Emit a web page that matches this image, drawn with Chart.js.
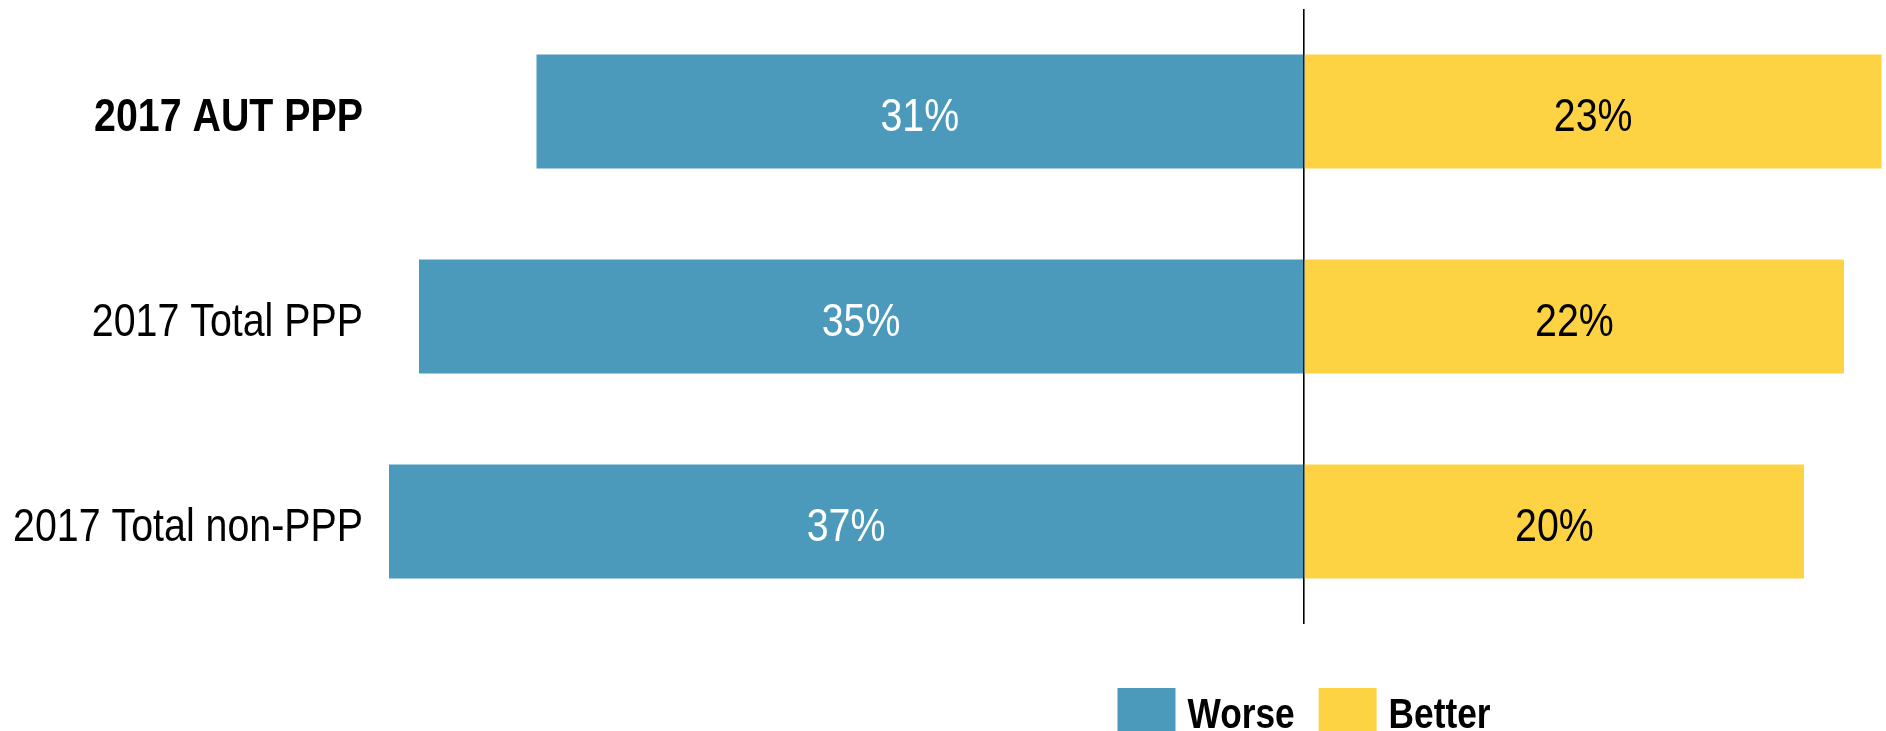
<!DOCTYPE html>
<html>
<head>
<meta charset="utf-8">
<script src="https://cdn.jsdelivr.net/npm/chart.js@4/dist/chart.umd.min.js"></script>
<style>
  html, body { margin: 0; padding: 0; background: #fff; }
  #wrap { width: 1886px; height: 731px; }
</style>
</head>
<body>
<div id="wrap"><canvas id="c" width="1886" height="731"></canvas></div>
<script>
const categories = ['2017 AUT PPP', '2017 Total PPP', '2017 Total non-PPP'];
const seriesNames = ['Worse', 'Better'];
const worse = [30.7, 35.4, 36.6];
const better = [23.1, 21.6, 20.0];

const FONT = "'Liberation Sans', Arial, sans-serif";
const NARROW = 0.837;      // horizontal squeeze to mimic Arial Narrow
const NARROW_LEG = 0.82;
const BLUE = '#4B9ABC';
const YELLOW = '#FDD344';

function narrowText(ctx, text, x, y, align, k) {
  ctx.save();
  ctx.translate(x, y);
  ctx.scale(k, 1);
  ctx.textAlign = align;
  ctx.fillText(text, 0, 0);
  ctx.restore();
}

const axisLabels = {
  id: 'axisLabels',
  afterDraw(chart) {
    const ctx = chart.ctx;
    const y = chart.scales.y;
    ctx.save();
    ctx.fillStyle = '#000';
    ctx.textBaseline = 'middle';
    chart.data.labels.forEach((lab, i) => {
      ctx.font = (i === 0 ? 'bold ' : '') + '47px ' + FONT;
      narrowText(ctx, lab, chart.chartArea.left - 16, y.getPixelForTick(i) + 7, 'right', NARROW);
    });
    ctx.restore();
  }
};

const barLabels = {
  id: 'barLabels',
  afterDatasetsDraw(chart) {
    const ctx = chart.ctx;
    ctx.save();
    ctx.font = '47px ' + FONT;
    ctx.textBaseline = 'middle';
    chart.data.datasets.forEach((ds, di) => {
      const meta = chart.getDatasetMeta(di);
      meta.data.forEach((el, i) => {
        const p = el.getCenterPoint();
        ctx.fillStyle = di === 0 ? '#ffffff' : '#000000';
        narrowText(ctx, Math.round(Math.abs(ds.data[i])) + '%', p.x, p.y + 7, 'center', NARROW);
      });
    });
    ctx.restore();
  }
};

const customLegend = {
  id: 'customLegend',
  afterDraw(chart) {
    const ctx = chart.ctx;
    ctx.save();
    ctx.font = 'bold 43px ' + FONT;
    const box = 58, boxH = 44, gap = 12, itemGap = 24;
    const items = chart.data.datasets.map(ds => ({ label: ds.label, color: ds.backgroundColor, w: ctx.measureText(ds.label).width * NARROW_LEG }));
    let total = 0;
    items.forEach((it, i) => { total += box + gap + it.w + (i < items.length - 1 ? itemGap : 0); });
    const cx = chart.scales.x.getPixelForValue(0);
    let x = cx - total / 2;
    const top = 688;
    items.forEach(it => {
      ctx.fillStyle = it.color;
      ctx.fillRect(x, top, box, boxH);
      x += box + gap;
      ctx.fillStyle = '#000';
      ctx.textBaseline = 'alphabetic';
      narrowText(ctx, it.label, x, 728, 'left', NARROW_LEG);
      x += it.w + itemGap;
    });
    ctx.restore();
  }
};

new Chart(document.getElementById('c'), {
  type: 'bar',
  data: {
    labels: categories,
    datasets: [
      { label: seriesNames[0], data: worse.map(v => -v), backgroundColor: BLUE, borderWidth: 0 },
      { label: seriesNames[1], data: better, backgroundColor: YELLOW, borderWidth: 0 }
    ]
  },
  options: {
    indexAxis: 'y',
    responsive: false,
    animation: false,
    layout: { padding: { top: 9, bottom: 107, left: 0, right: 2 } },
    plugins: { legend: { display: false }, tooltip: { enabled: false } },
    datasets: { bar: { categoryPercentage: 1, barPercentage: 0.556 } },
    scales: {
      x: {
        stacked: true,
        min: -37,
        max: 23.2,
        z: 1,
        border: { display: false },
        grid: {
          drawTicks: false,
          color: c => (c.tick && c.tick.value === 0 ? '#000000' : 'rgba(0,0,0,0)'),
          lineWidth: c => (c.tick && c.tick.value === 0 ? 1.6 : 0)
        },
        ticks: { display: false },
        afterFit: s => { s.height = 0; s.paddingLeft = 0; s.paddingRight = 0; }
      },
      y: {
        stacked: true,
        border: { display: false },
        grid: { display: false, drawTicks: false },
        ticks: { display: false },
        afterFit: s => { s.width = 379; s.paddingTop = 0; s.paddingBottom = 0; }
      }
    }
  },
  plugins: [barLabels, axisLabels, customLegend]
});
</script>
</body>
</html>
